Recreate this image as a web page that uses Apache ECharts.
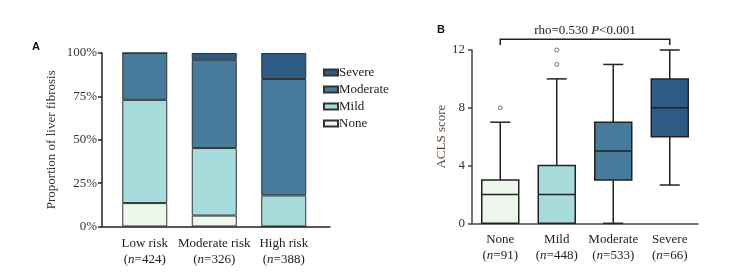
<!DOCTYPE html>
<html>
<head>
<meta charset="utf-8">
<script src="https://cdn.jsdelivr.net/npm/echarts@6/dist/echarts.min.js"></script>
<style>
  html, body { margin: 0; padding: 0; background: #fff; }
  #main { width: 729px; height: 272px; }
</style>
</head>
<body>
<div id="main"></div>
<script>
// panel A: proportion of liver fibrosis by risk group (%)
var riskCats = ['Low risk', 'Moderate risk', 'High risk'];
var riskN = [424, 326, 388];
var noneVals = [13.5, 6.3, 0];
var mildVals = [59.5, 38.9, 17.9];
var moderateVals = [27, 50.9, 67.1];
var severeVals = [0, 3.9, 15];
var pctTicks = [0, 25, 50, 75, 100];

// panel B: ACLS score by fibrosis grade
var gradeCats = ['None', 'Mild', 'Moderate', 'Severe'];
var gradeN = [91, 448, 533, 66];
var whiskerLow = [0, 0, 0, 2.65];
var q1 = [0, 0, 3, 6];
var median = [2, 2, 5, 8];
var q3 = [3, 4, 7, 10];
var whiskerHigh = [7, 10, 11, 12];
var outliers = [[0, 8], [1, 11], [1, 12]];
var scoreTicks = [0, 4, 8, 12];

var serif = '"Liberation Serif", "DejaVu Serif", serif';
var colors = { none: '#eef7ec', mild: '#a8dbdc', moderate: '#467b9c', severe: '#2e5b84' };
var boxColors = [colors.none, colors.mild, colors.moderate, colors.severe];

var mainChart = echarts.init(document.getElementById('main'));

var boxData = gradeCats.map(function (c, i) {
    return [i, whiskerLow[i], q1[i], median[i], q3[i], whiskerHigh[i]];
});

function renderBox(params, api) {
    var x = api.value(0);
    var pLow = api.coord([x, api.value(1)]);
    var pQ1 = api.coord([x, api.value(2)]);
    var pMed = api.coord([x, api.value(3)]);
    var pQ3 = api.coord([x, api.value(4)]);
    var pHigh = api.coord([x, api.value(5)]);
    var halfW = 18.5, capW = 10;
    var line = { stroke: '#222', lineWidth: 1.5 };
    var kids = [
        { type: 'line', shape: { x1: pQ3[0], y1: pQ3[1], x2: pHigh[0], y2: pHigh[1] }, style: line },
        { type: 'line', shape: { x1: pHigh[0] - capW, y1: pHigh[1], x2: pHigh[0] + capW, y2: pHigh[1] }, style: line },
        { type: 'rect', shape: { x: pQ3[0] - halfW, y: pQ3[1], width: halfW * 2, height: pQ1[1] - pQ3[1] },
          style: { fill: boxColors[params.dataIndex], stroke: '#222', lineWidth: 1.5 } },
        { type: 'line', shape: { x1: pMed[0] - halfW, y1: pMed[1], x2: pMed[0] + halfW, y2: pMed[1] }, style: line }
    ];
    if (api.value(1) < api.value(2)) {
        kids.unshift(
            { type: 'line', shape: { x1: pLow[0], y1: pLow[1], x2: pQ1[0], y2: pQ1[1] }, style: line },
            { type: 'line', shape: { x1: pLow[0] - capW, y1: pLow[1], x2: pLow[0] + capW, y2: pLow[1] }, style: line }
        );
    }
    return { type: 'group', children: kids };
}

// significance bracket across the four grades
function renderBracket(params, api) {
    var a = api.coord([api.value(0), api.value(2)]);
    var b = api.coord([api.value(1), api.value(2)]);
    var drop = api.coord([api.value(0), api.value(3)])[1];
    return {
        type: 'group',
        children: [
            { type: 'polyline', shape: { points: [[a[0], drop], a, b, [b[0], drop]] },
              style: { stroke: '#222', lineWidth: 1.5, fill: null } },
            { type: 'text', x: (a[0] + b[0]) / 2, y: a[1] - 9,
              style: {
                  text: 'rho=0.530 {i|P}<0.001', align: 'center', verticalAlign: 'middle',
                  fontSize: 13, fontFamily: serif, fill: '#222',
                  rich: { i: { fontStyle: 'italic', fontSize: 13, fontFamily: serif, fill: '#222' } }
              } }
        ]
    };
}

var labelRich = { i: { fontStyle: 'italic', fontSize: 13, fontFamily: serif, color: '#222', lineHeight: 16 } };

function barSeries(name, vals, color) {
    return {
        name: name, type: 'bar', stack: 'risk', xAxisIndex: 0, yAxisIndex: 0,
        barWidth: 45, data: vals,
        itemStyle: { color: color, borderColor: '#333', borderWidth: 1 }
    };
}

var option = {
    animation: false,
    title: [
        { text: 'A', left: 32, top: 41, padding: 0,
          textStyle: { fontFamily: '"Liberation Sans", Arial, sans-serif', fontWeight: 'bold', fontSize: 11, color: '#111' } },
        { text: 'B', left: 437, top: 24, padding: 0,
          textStyle: { fontFamily: '"Liberation Sans", Arial, sans-serif', fontWeight: 'bold', fontSize: 11, color: '#111' } }
    ],
    legend: {
        orient: 'vertical', left: 323, top: 66, itemGap: 4, padding: 0,
        itemWidth: 14, itemHeight: 6, icon: 'rect',
        data: ['Severe', 'Moderate', 'Mild', 'None'],
        textStyle: { fontFamily: serif, fontSize: 13, color: '#222', padding: [0, 0, 0, -4] }
    },
    grid: [
        { left: 110, width: 208.5, top: 53, height: 173.5 },
        { left: 472, width: 226, top: 50, height: 173.3 },
        { left: 102, width: 228, top: 53, height: 173.5 }
    ],
    xAxis: [
        {
            type: 'category', gridIndex: 0, data: riskCats,
            axisLine: { show: false },
            axisTick: { alignWithLabel: true, length: 4, lineStyle: { color: '#222', width: 1.5 } },
            axisLabel: {
                interval: 0, margin: 9, fontFamily: serif, fontSize: 13, color: '#222', lineHeight: 16, rich: labelRich,
                formatter: function (v, i) { return v + '\n({i|n}=' + riskN[i] + ')'; }
            }
        },
        {
            type: 'category', gridIndex: 1, data: gradeCats,
            axisLine: { lineStyle: { color: '#444', width: 1.5 } },
            axisTick: { alignWithLabel: true, length: 4, lineStyle: { color: '#444', width: 1.5 } },
            axisLabel: {
                interval: 0, margin: 8, fontFamily: serif, fontSize: 13, color: '#222', lineHeight: 16, rich: labelRich,
                formatter: function (v, i) { return v + '\n({i|n}=' + gradeN[i] + ')'; }
            }
        },
        {
            type: 'value', gridIndex: 2, min: 0, max: 1,
            axisLine: { lineStyle: { color: '#222', width: 1.5 } },
            axisTick: { show: false }, axisLabel: { show: false }, splitLine: { show: false }
        }
    ],
    yAxis: [
        {
            type: 'value', gridIndex: 0, offset: 8,
            min: pctTicks[0], max: pctTicks[pctTicks.length - 1], interval: 25,
            name: 'Proportion of liver fibrosis', nameLocation: 'middle', nameGap: 44,
            nameTextStyle: { fontFamily: serif, fontSize: 13, color: '#333' },
            axisLine: { show: true, lineStyle: { color: '#222', width: 1.5 } },
            axisTick: { show: true, length: 4, lineStyle: { color: '#222', width: 1.5 } },
            axisLabel: { margin: 5, fontFamily: serif, fontSize: 13, color: '#333', formatter: '{value}%' },
            splitLine: { show: false }
        },
        {
            type: 'value', gridIndex: 1,
            min: scoreTicks[0], max: scoreTicks[scoreTicks.length - 1], interval: 4,
            name: 'ACLS score', nameLocation: 'middle', nameGap: 19,
            nameTextStyle: { fontFamily: serif, fontSize: 13, color: '#5e4a3a' },
            axisLine: { show: true, lineStyle: { color: '#444', width: 1.5 } },
            axisTick: { show: true, length: 4, lineStyle: { color: '#444', width: 1.5 } },
            axisLabel: { margin: 7, fontFamily: serif, fontSize: 13, color: '#333' },
            splitLine: { show: false }
        },
        { type: 'value', gridIndex: 2, show: false }
    ],
    series: [
        barSeries('None', noneVals, colors.none),
        barSeries('Mild', mildVals, colors.mild),
        barSeries('Moderate', moderateVals, colors.moderate),
        barSeries('Severe', severeVals, colors.severe),
        {
            type: 'custom', xAxisIndex: 1, yAxisIndex: 1,
            renderItem: renderBox, data: boxData,
            encode: { x: 0, y: [1, 2, 3, 4, 5] }
        },
        {
            type: 'scatter', xAxisIndex: 1, yAxisIndex: 1,
            symbol: 'circle', symbolSize: 4, data: outliers,
            itemStyle: { color: '#fff', borderColor: '#555', borderWidth: 1 }
        },
        {
            type: 'custom', xAxisIndex: 1, yAxisIndex: 1, clip: false,
            renderItem: renderBracket, data: [[0, 3, 12.74, 12.35]],
            encode: { x: [0, 1] }
        }
    ]
};

mainChart.setOption(option);
</script>
</body>
</html>
